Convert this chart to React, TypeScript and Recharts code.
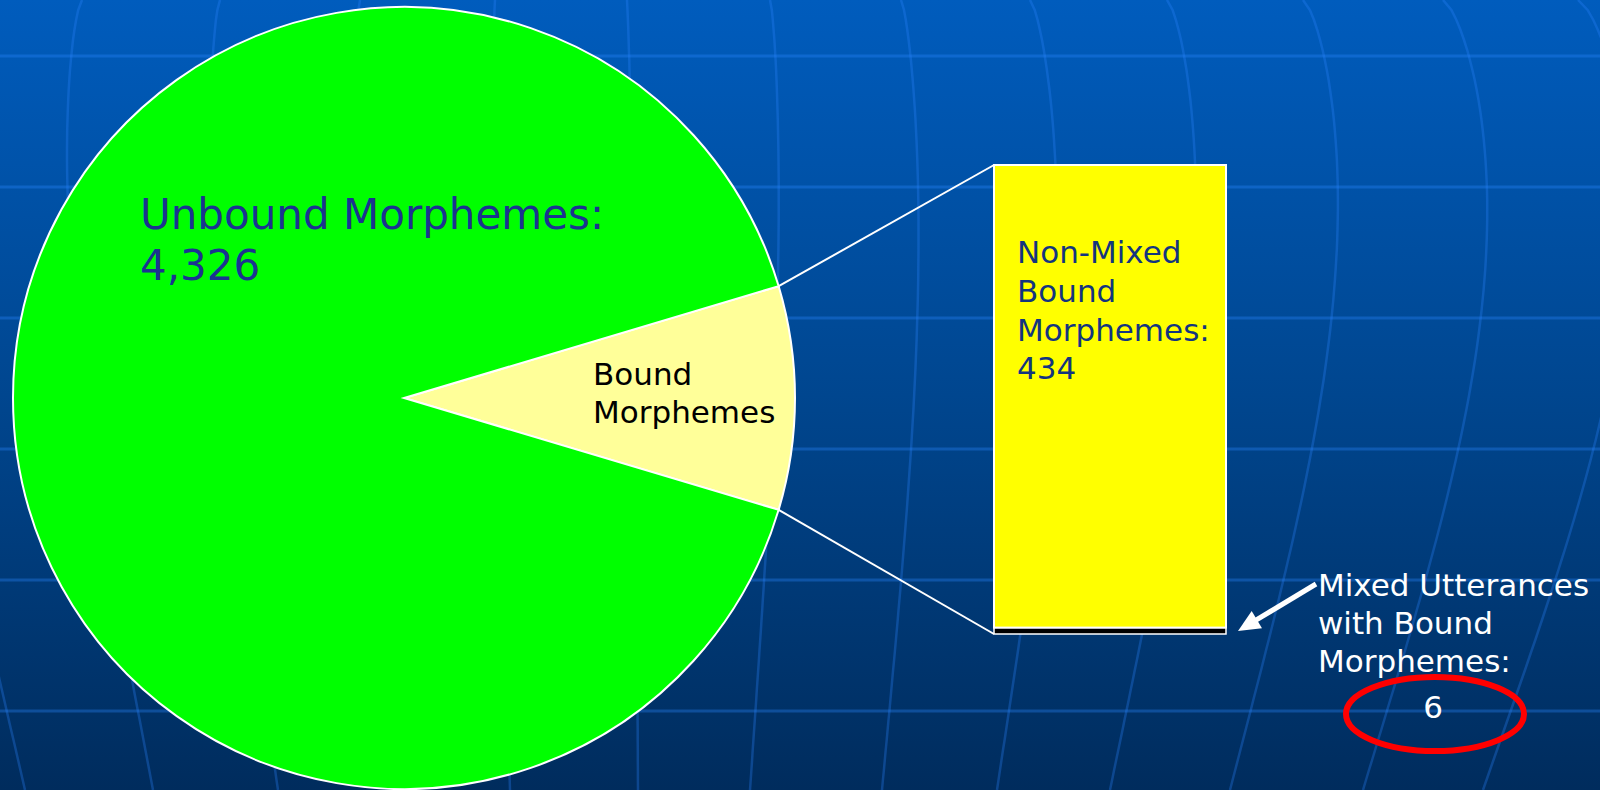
import React from "react";
import { PieChart, Pie, Cell, BarChart, Bar, XAxis, YAxis } from "recharts";

const W = 1600;
const H = 790;
const FONT = "'DejaVu Sans', Verdana, sans-serif";

// pie: all morphemes
const pieNames = ["Bound Morphemes", "Unbound Morphemes"];
const pieValues = [440, 4326];
const pieColors = ["#ffff99", "#00ff00"];

// bar of pie: breakdown of the bound slice
const barCategories = ["Bound"];
const mixedValues = [6];
const nonMixedValues = [434];

const pieData = pieNames.map((name, i) => ({ name, value: pieValues[i] }));
const barData = barCategories.map((name, i) => ({
  name,
  mixed: mixedValues[i],
  nonMixed: nonMixedValues[i],
}));

const total = pieValues.reduce((a, b) => a + b, 0);
const START = (180 * pieValues[0]) / total;

const PIE_CX = 404;
const PIE_CY = 398;
const PIE_R = 391;

// slide background grid (decoration only)
const gridRows = [56, 187, 318, 449, 580, 711];
const meridians: [number, number, number][] = [
  [-55, 25, -45],
  [82, 153, -35],
  [220, 278, -25],
  [360, 395, -15],
  [495, 510, -5],
  [627, 638, 3],
  [770, 750, 15],
  [901, 882, 24],
  [1030, 997, 38],
  [1167, 1110, 47],
  [1303, 1230, 58],
  [1443, 1363, 70],
  [1578, 1483, 80],
];

function meridianPath([top, bottom, bulge]: [number, number, number]) {
  const pts: string[] = [];
  for (let y = 0; y <= H; y += 10) {
    const u = y / H;
    const x = top + (bottom - top) * u + bulge * Math.sin(Math.PI * Math.pow(u, 0.72));
    pts.push(`${x.toFixed(1)},${y}`);
  }
  return "M" + pts.join(" L");
}

function Background() {
  return (
    <svg width={W} height={H} style={{ position: "absolute", left: 0, top: 0 }}>
      <defs>
        <linearGradient id="slideBg" x1="0" y1="0" x2="0" y2="1">
          <stop offset="0%" stopColor="#005cbd" />
          <stop offset="50%" stopColor="#00468f" />
          <stop offset="100%" stopColor="#002c5d" />
        </linearGradient>
      </defs>
      <rect x={0} y={0} width={W} height={H} fill="url(#slideBg)" />
      {gridRows.map((y) => (
        <line key={y} x1={0} x2={W} y1={y} y2={y} stroke="#2a86ff" strokeOpacity={0.34} strokeWidth={3} />
      ))}
      {meridians.map((m, i) => (
        <path key={i} d={meridianPath(m)} fill="none" stroke="#2a86ff" strokeOpacity={0.3} strokeWidth={2.5} />
      ))}
    </svg>
  );
}

const edgePoint = (deg: number) => {
  const a = (deg * Math.PI) / 180;
  return { x: PIE_CX + PIE_R * Math.cos(a), y: PIE_CY - PIE_R * Math.sin(a) };
};

const renderPieLabel = (p: any) => {
  const { cx, cy, index, value, name } = p;
  if (index === 1) {
    return (
      <text x={cx - 264} y={cy - 169} fill="#1b3390" fontSize={42} fontFamily={FONT}>
        <tspan x={cx - 264}>{name}:</tspan>
        <tspan x={cx - 264} dy={51}>{Number(value).toLocaleString("en-US")}</tspan>
      </text>
    );
  }
  return (
    <text x={cx + 189} y={cy - 13} fill="#000" fontSize={31} fontFamily={FONT}>
      <tspan x={cx + 189}>Bound</tspan>
      <tspan x={cx + 189} dy={38}>Morphemes</tspan>
    </text>
  );
};

const NonMixedShape = (p: any) => {
  const { x, y, width, height } = p;
  const e = edgePoint(START);
  return (
    <g>
      <line x1={e.x} y1={e.y} x2={x} y2={y} stroke="#fff" strokeWidth={2} />
      <rect x={x} y={y} width={width} height={height} fill="#ffff00" stroke="#fff" strokeWidth={2} />
    </g>
  );
};

const MixedShape = (p: any) => {
  const { x, y, width, height } = p;
  const e = edgePoint(-START);
  return (
    <g>
      <line x1={e.x} y1={e.y} x2={x} y2={y + height} stroke="#fff" strokeWidth={2} />
      <rect x={x} y={y} width={width} height={height} fill="#000" stroke="#fff" strokeWidth={1.5} />
    </g>
  );
};

const renderNonMixedLabel = (p: any) => {
  const { x, y, index } = p;
  const lx = x + 23;
  return (
    <text x={lx} y={y + 98} fill="#13357f" fontSize={31} fontFamily={FONT}>
      <tspan x={lx}>Non-Mixed</tspan>
      <tspan x={lx} dy={39}>Bound</tspan>
      <tspan x={lx} dy={39}>Morphemes:</tspan>
      <tspan x={lx} dy={38}>{nonMixedValues[index ?? 0]}</tspan>
    </text>
  );
};

const renderMixedLabel = (p: any) => {
  const { x, y, width, height, index } = p;
  const right = x + width;
  const bottom = y + height;
  const tip = { x: right + 12, y: bottom - 3 };
  const tail = { x: right + 90, y: bottom - 50 };
  const dx = tail.x - tip.x;
  const dy = tail.y - tip.y;
  const len = Math.hypot(dx, dy);
  const ux = dx / len;
  const uy = dy / len;
  const hl = 22;
  const hw = 10;
  const bx = tip.x + ux * hl;
  const by = tip.y + uy * hl;
  const tx = right + 92;
  const cxE = right + 209;
  const cyE = bottom + 80;
  return (
    <g>
      <line x1={tail.x} y1={tail.y} x2={bx - ux * 2} y2={by - uy * 2} stroke="#fff" strokeWidth={5} />
      <polygon
        points={`${tip.x},${tip.y} ${bx - uy * hw},${by + ux * hw} ${bx + uy * hw},${by - ux * hw}`}
        fill="#fff"
      />
      <text x={tx} y={bottom - 38} fill="#fff" fontSize={31} fontFamily={FONT}>
        <tspan x={tx}>Mixed Utterances</tspan>
        <tspan x={tx} dy={38}>with Bound</tspan>
        <tspan x={tx} dy={38}>Morphemes:</tspan>
      </text>
      <text x={cxE - 2} y={bottom + 84} fill="#fff" fontSize={31} fontFamily={FONT} textAnchor="middle">
        {mixedValues[index ?? 0]}
      </text>
      <ellipse cx={cxE} cy={cyE} rx={89} ry={37} fill="none" stroke="#ff0000" strokeWidth={6} />
    </g>
  );
};

export default function App() {
  return (
    <div style={{ position: "fixed", left: 0, top: 0, width: W, height: H, overflow: "hidden" }}>
      <Background />
      <div style={{ position: "absolute", left: 0, top: 0 }}>
        <PieChart width={W} height={H} margin={{ top: 0, right: 0, bottom: 0, left: 0 }}>
          <Pie
            data={pieData}
            dataKey="value"
            nameKey="name"
            cx={PIE_CX}
            cy={PIE_CY}
            outerRadius={PIE_R}
            startAngle={START}
            endAngle={START - 360}
            stroke="#ffffff"
            strokeWidth={2}
            label={renderPieLabel}
            labelLine={false}
            isAnimationActive={false}
          >
            {pieData.map((d, i) => (
              <Cell key={d.name} fill={pieColors[i]} />
            ))}
          </Pie>
        </PieChart>
      </div>
      <div style={{ position: "absolute", left: 0, top: 0 }}>
        <BarChart
          width={W}
          height={H}
          data={barData}
          margin={{ top: 165, bottom: 156, left: 994, right: 374 }}
          barCategoryGap={0}
        >
          <XAxis dataKey="name" hide />
          <YAxis hide domain={[0, mixedValues[0] + nonMixedValues[0]]} />
          <Bar
            dataKey="mixed"
            stackId="a"
            shape={MixedShape}
            label={renderMixedLabel}
            isAnimationActive={false}
          />
          <Bar
            dataKey="nonMixed"
            stackId="a"
            shape={NonMixedShape}
            label={renderNonMixedLabel}
            isAnimationActive={false}
          />
        </BarChart>
      </div>
    </div>
  );
}
